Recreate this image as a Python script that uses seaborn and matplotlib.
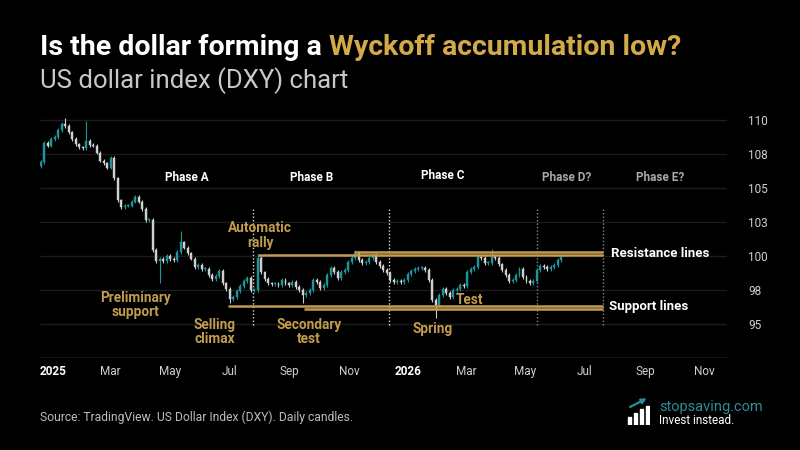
import pandas as pd
import numpy as np
import matplotlib
matplotlib.use('Agg')
import matplotlib.pyplot as plt
import seaborn as sns

# daily-ish DXY closes (one every ~3.6 days)
closes = [
    106.9, 108.3, 108.1, 108.6, 108.75, 109.26, 109.7, 109.55, 109.1, 108.6,
    108.2, 108.0, 107.94, 108.45, 108.16, 108.1, 107.6, 107.0, 106.8, 106.5,
    107.2, 105.7, 104.1, 103.6, 103.7, 103.7, 104.0, 104.34, 104.0, 103.45,
    102.65, 102.65, 100.44, 99.63, 99.8, 99.63, 100.0, 99.78, 99.7, 100.3,
    101.0, 100.6, 100.2, 99.8, 99.2, 99.34, 99.04, 99.04, 98.6, 98.3,
    98.53, 98.9, 98.0, 97.57, 96.84, 96.98, 97.43, 97.8, 98.16, 98.38,
    97.5, 97.5, 99.85, 98.8, 98.3, 98.0, 97.94, 97.94, 97.87, 98.24,
    98.0, 97.87, 98.09, 97.72, 97.5, 97.13, 97.28, 97.5, 98.24, 98.09,
    97.65, 97.87, 98.6, 99.12, 98.82, 98.38, 98.82, 98.97, 99.56, 99.85,
    100.22, 99.71, 99.49, 99.56, 99.85, 100.07, 99.56, 99.26, 98.97, 98.75,
    98.24, 98.09, 98.16, 98.09, 98.24, 98.68, 98.9, 99.04, 99.12, 99.12,
    98.97, 98.24, 96.76, 96.4, 97.13, 97.57, 97.28, 96.99, 97.5, 97.57,
    97.87, 97.8, 98.82, 99.04, 99.19, 99.93, 99.85, 99.49, 99.49, 99.93,
    99.85, 99.4, 98.97, 98.6, 98.16, 98.24, 98.6, 99.04, 98.46, 98.16,
    98.0, 98.16, 98.97, 99.26, 99.19, 99.04, 99.19, 99.34, 99.71, 99.93,
]
# long wicks that stand out
spike_highs = {7: 110.15, 13: 109.9, 40: 101.8, 62: 100.15, 90: 100.45, 129: 100.55}
spike_lows = {34: 98.0, 54: 96.55, 75: 96.55, 113: 95.45}

# annotation lines (start date, level)
resistance = [('2025-07-31', 100.07), ('2025-11-06', 100.3)]
support = [('2025-06-30', 96.32), ('2025-09-16', 96.07)]
lines_end = '2026-07-20'
phase_splits = ['2025-07-26', '2025-12-12', '2026-05-13', '2026-07-20']
phase_names = ['Phase A', 'Phase B', 'Phase C', 'Phase D?', 'Phase E?']
phase_x = ['2025-05-19', '2025-09-24', '2026-02-05', '2026-06-12', '2026-09-16']

yticks = [95, 97.5, 100, 102.5, 105, 107.5, 110]
ytick_labels = ['95', '98', '100', '103', '105', '108', '110']
xticks = ['2025-01-01', '2025-03-01', '2025-05-01', '2025-07-01', '2025-09-01', '2025-11-01',
          '2026-01-01', '2026-03-01', '2026-05-01', '2026-07-01', '2026-09-01', '2026-11-01']
xtick_labels = ['2025', 'Mar', 'May', 'Jul', 'Sep', 'Nov', '2026', 'Mar', 'May', 'Jul', 'Sep', 'Nov']

BG = '#000000'
GOLD = '#c29d4f'
TEAL = '#1f949b'
LIGHT = '#cfcfcf'

sns.set_theme(style='dark')
plt.rcParams['font.family'] = ['Roboto', 'DejaVu Sans']

dates = pd.date_range('2024-12-20', periods=len(closes), freq=pd.Timedelta(hours=86))
df = pd.DataFrame({'date': dates, 'close': closes})
df['open'] = df['close'].shift(1).fillna(df['close'].iloc[0] - 0.3)
df['up'] = df['close'] >= df['open']
df['high'] = df[['open', 'close']].max(axis=1) + 0.12
df['low'] = df[['open', 'close']].min(axis=1) - 0.12
for k, v in spike_highs.items():
    df.loc[k, 'high'] = v
for k, v in spike_lows.items():
    df.loc[k, 'low'] = v

fig = plt.figure(figsize=(8, 4.5), dpi=100, facecolor=BG)
ax = fig.add_axes([0.05, 0.2044, 0.859, 0.5472])
ax.set_facecolor(BG)

for up, color in [(True, TEAL), (False, LIGHT)]:
    d = df[df['up'] == up]
    ax.vlines(d['date'], d['low'], d['high'], color=color, lw=0.8, zorder=3)
    body = (d['close'] - d['open']).abs().clip(lower=0.06)
    ax.bar(d['date'], body, bottom=d[['open', 'close']].min(axis=1),
           width=2.0, color=color, edgecolor=color, lw=0.3, zorder=3)

end = pd.Timestamp(lines_end)
for start, lvl in resistance + support:
    ax.hlines(lvl, pd.Timestamp(start), end, color=GOLD, lw=1.8, zorder=4)

for i, s in enumerate(phase_splits):
    c = '#dddddd' if i < 2 else '#888888'
    ax.vlines(pd.Timestamp(s), 94.95, 103.6, color=c, lw=1, linestyles=(0, (1, 1.5)), zorder=2)

for name, x in zip(phase_names, phase_x):
    c = 'white' if '?' not in name else '#a8a8a8'
    y = 105.95 if name == 'Phase C' else 105.75
    ax.text(pd.Timestamp(x), y, name, color=c, fontsize=8.5, fontweight='bold',
            ha='center', va='center')

notes = [
    ('2025-08-02', 101.5, 'Automatic\nrally'),
    ('2025-03-27', 96.4, 'Preliminary\nsupport'),
    ('2025-06-16', 94.4, 'Selling\nclimax'),
    ('2025-09-21', 94.4, 'Secondary\ntest'),
    ('2026-01-26', 94.6, 'Spring'),
    ('2026-03-05', 96.75, 'Test'),
]
for x, y, t in notes:
    ax.text(pd.Timestamp(x), y, t, color=GOLD, fontsize=9.8, fontweight='bold',
            ha='center', va='center', linespacing=1.05)

ax.text(pd.Timestamp('2026-07-28'), 100.2, 'Resistance lines', color='white',
        fontsize=9.5, fontweight='bold', va='center')
ax.text(pd.Timestamp('2026-07-26'), 96.3, 'Support lines', color='white',
        fontsize=9.5, fontweight='bold', va='center')

ax.set_xlim(pd.Timestamp('2024-12-19'), pd.Timestamp('2026-11-24'))
ax.set_ylim(92.5, 110.6)
ax.yaxis.tick_right()
ax.set_yticks(yticks)
ax.set_yticklabels(ytick_labels, color=LIGHT, fontsize=8.5)
ax.set_xticks(pd.to_datetime(xticks))
ax.set_xticklabels(xtick_labels, color=LIGHT, fontsize=8.5)
for lab in ax.get_xticklabels():
    if lab.get_text().isdigit():
        lab.set_fontweight('bold')
        lab.set_color('white')
ax.tick_params(axis='x', length=0, pad=5)
ax.tick_params(axis='y', length=0, pad=15)
ax.grid(True, axis='y', color='#1c1c1c', lw=1)
ax.grid(False, axis='x')
for sp in ax.spines.values():
    sp.set_visible(False)
ax.axhline(92.5, color='#1c1c1c', lw=1.2)

# title in two colours
t1 = fig.text(0.05, 0.878, 'Is the dollar forming a ', color='white', fontsize=20.5,
              fontweight='bold', va='baseline')
fig.canvas.draw()
bb = t1.get_window_extent()
fig.text(bb.x1 / fig.bbox.width, 0.878, 'Wyckoff accumulation low?', color='#d4a94a',
         fontsize=20.5, fontweight='bold', va='baseline')
fig.text(0.05, 0.804, 'US dollar index (DXY) chart', color='#c8c8c8', fontsize=18.5,
         va='baseline')

fig.text(0.05, 0.064, 'Source: TradingView. US Dollar Index (DXY). Daily candles.',
         color='#bdbdbd', fontsize=8.7, va='baseline')
fig.text(0.824, 0.087, 'stopsaving.com', color='#2d8c96', fontsize=10.5, va='baseline')
fig.text(0.824, 0.058, 'Invest instead.', color='white', fontsize=8.5, va='baseline')

# small logo
lax = fig.add_axes([0.783, 0.055, 0.03, 0.065])
lax.set_facecolor(BG)
lax.bar([0, 1, 2, 3], [0.35, 0.5, 0.65, 0.8], width=0.6, color='white')
lax.annotate('', xy=(3.3, 1.15), xytext=(-0.3, 0.7),
             arrowprops=dict(arrowstyle='-|>', color=TEAL, lw=1.6, mutation_scale=7))
lax.set_xlim(-0.5, 3.5)
lax.set_ylim(0, 1.2)
lax.axis('off')

fig.savefig('out.png', dpi=100, facecolor=BG)
